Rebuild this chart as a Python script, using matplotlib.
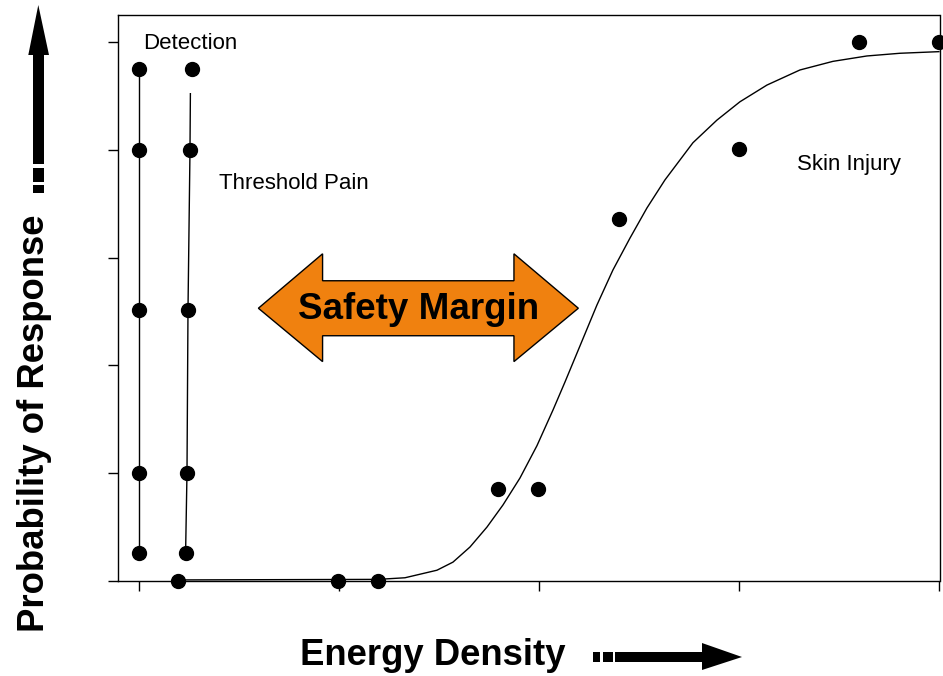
import matplotlib
matplotlib.use("Agg")
import matplotlib.pyplot as plt
from matplotlib.patches import Polygon, Rectangle

plt.rcParams["font.family"] = ["Liberation Sans", "DejaVu Sans"]

W, H = 943, 676

# Detection: measured responses at the lowest energy
detect_x = [0.0, 0.0, 0.0, 0.0, 0.0]
detect_y = [0.052, 0.201, 0.503, 0.800, 0.950]

# Threshold pain
pain_x = [0.233, 0.240, 0.245, 0.255, 0.265]
pain_y = [0.052, 0.201, 0.503, 0.800, 0.950]
pain_fit_x = [0.233, 0.240, 0.245, 0.255, 0.257]
pain_fit_y = [0.052, 0.201, 0.503, 0.800, 0.904]

# Skin injury
skin_x = [0.195, 0.995, 1.195, 1.795, 1.995, 2.40, 3.00, 3.60, 4.00]
skin_y = [0.0, 0.0, 0.0, 0.171, 0.171, 0.671, 0.802, 1.0, 1.0]
skin_fit_x = [0.195, 1.195, 1.33, 1.49, 1.57, 1.655, 1.74, 1.82, 1.905, 1.99,
              2.07, 2.13, 2.205, 2.29, 2.37, 2.455, 2.54, 2.63, 2.77, 2.89,
              3.005, 3.14, 3.305, 3.47, 3.64, 3.805, 4.0]
skin_fit_y = [0.002, 0.003, 0.006, 0.020, 0.035, 0.063, 0.100, 0.141, 0.191, 0.251,
              0.317, 0.369, 0.436, 0.512, 0.577, 0.636, 0.692, 0.744, 0.813, 0.855,
              0.889, 0.920, 0.948, 0.964, 0.974, 0.979, 0.982]

x_ticks = [0, 1, 2, 3, 4]
y_ticks = [0.0, 0.2, 0.4, 0.6, 0.8, 1.0]


def fig_xy(px, py):
    """Pixel position (from top-left) to figure fraction."""
    return (px / W, 1 - py / H)


fig = plt.figure(figsize=(W / 100, H / 100), dpi=100)
ax = fig.add_axes([118 / W, 1 - 581 / H, (939.5 - 118) / W, (581 - 15) / H])
ax.set_xlim(-0.105, 4.003)
ax.set_ylim(0, 1.05)

mk = dict(marker="o", markersize=10, color="black", linestyle="none", clip_on=False, zorder=3)
ax.plot(detect_x, detect_y, color="black", lw=1.0)
ax.plot(detect_x, detect_y, **mk)
ax.plot(pain_fit_x, pain_fit_y, color="black", lw=1.0)
ax.plot(pain_x, pain_y, **mk)
ax.plot(skin_fit_x, skin_fit_y, color="black", lw=1.0, clip_on=False)
ax.plot(skin_x, skin_y, **mk)

ax.set_xticks(x_ticks)
ax.set_yticks(y_ticks)
ax.tick_params(direction="out", length=7, width=1, labelleft=False, labelbottom=False)
for s in ax.spines.values():
    s.set_linewidth(1.0)

ax.text(0.022, 0.998, "Detection", fontsize=16, ha="left", va="center")
ax.text(0.40, 0.737, "Threshold Pain", fontsize=16, ha="left", va="center")
ax.text(3.29, 0.772, "Skin Injury", fontsize=16, ha="left", va="center")

# double-headed "Safety Margin" arrow
arrow = [(0.597, 0.506), (0.918, 0.607), (0.918, 0.557), (1.875, 0.557),
         (1.875, 0.607), (2.197, 0.506), (1.875, 0.407), (1.875, 0.455),
         (0.918, 0.455), (0.918, 0.407)]
ax.add_patch(Polygon(arrow, closed=True, fc="#F0810F", ec="black", lw=1.0, zorder=2))
ax.text(1.397, 0.503, "Safety Margin", fontsize=26.5, fontweight="bold",
        ha="center", va="center", zorder=4)

# axis titles with their arrows
fig.text(*fig_xy(433, 665), "Energy Density", fontsize=26.3, fontweight="bold",
         ha="center", va="baseline")
fig.text(*fig_xy(44, 423), "Probability of Response", fontsize=26.3, fontweight="bold",
         ha="center", va="baseline", rotation=90, rotation_mode="anchor")

tf = fig.transFigure
for x0, x1 in [(593, 600), (603, 613), (615, 703)]:
    (ax0, ay0), (ax1, ay1) = fig_xy(x0, 662), fig_xy(x1, 652)
    fig.add_artist(Rectangle((ax0, ay0), ax1 - ax0, ay1 - ay0, fc="black", ec="none", transform=tf))
fig.add_artist(Polygon([fig_xy(702, 643), fig_xy(742, 657), fig_xy(702, 670)],
                       closed=True, fc="black", ec="none", transform=tf))

for y0, y1 in [(185, 193), (168, 182), (54, 164)]:
    (bx0, by0), (bx1, by1) = fig_xy(32.7, y1), fig_xy(44, y0)
    fig.add_artist(Rectangle((bx0, by0), bx1 - bx0, by1 - by0, fc="black", ec="none", transform=tf))
fig.add_artist(Polygon([fig_xy(28.3, 55), fig_xy(38.3, 5), fig_xy(49, 55)],
                       closed=True, fc="black", ec="none", transform=tf))

fig.savefig("out.png", dpi=100)
